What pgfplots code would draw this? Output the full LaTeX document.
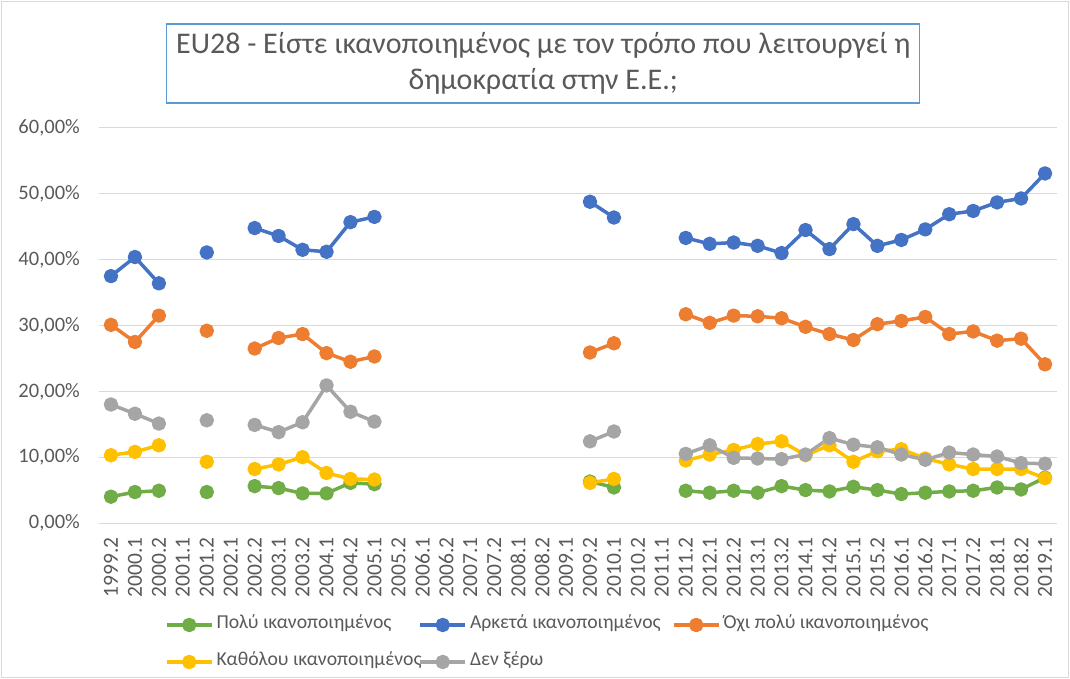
\documentclass[border=0pt]{standalone}
\usepackage{fontspec}
\setmainfont{Carlito}
\usepackage{pgfplots}
\usepackage{pgfplotstable}
\pgfplotsset{compat=1.18}
\definecolor{cgreen}{HTML}{70AD47}
\definecolor{cblue}{HTML}{4472C4}
\definecolor{corange}{HTML}{ED7D31}
\definecolor{cyellow}{HTML}{FFC000}
\definecolor{cgray}{HTML}{A5A5A5}
\definecolor{gridc}{HTML}{D9D9D9}
\definecolor{txt}{HTML}{595959}
\definecolor{titleblue}{HTML}{5B9BD5}

\pgfplotstableread{
x g b o y k
0 4.0 37.5 30.1 10.3 18.0
1 4.7 40.4 27.5 10.8 16.6
2 4.9 36.4 31.5 11.8 15.1
3 nan nan nan nan nan
4 4.7 41.1 29.2 9.3 15.6
5 nan nan nan nan nan
6 5.6 44.8 26.5 8.2 14.9
7 5.3 43.6 28.1 8.9 13.8
8 4.5 41.5 28.7 10.0 15.3
9 4.5 41.2 25.8 7.6 20.9
10 6.1 45.7 24.5 6.7 16.9
11 5.9 46.5 25.3 6.6 15.4
12 nan nan nan nan nan
13 nan nan nan nan nan
14 nan nan nan nan nan
15 nan nan nan nan nan
16 nan nan nan nan nan
17 nan nan nan nan nan
18 nan nan nan nan nan
19 nan nan nan nan nan
20 6.3 48.8 25.9 6.1 12.4
21 5.4 46.4 27.3 6.7 13.9
22 nan nan nan nan nan
23 nan nan nan nan nan
24 4.9 43.3 31.7 9.5 10.5
25 4.6 42.4 30.4 10.4 11.8
26 4.9 42.6 31.5 11.1 9.9
27 4.6 42.1 31.4 12.0 9.8
28 5.6 41.0 31.1 12.4 9.7
29 5.0 44.5 29.8 10.3 10.4
30 4.8 41.6 28.7 11.8 12.9
31 5.5 45.4 27.8 9.3 11.9
32 5.0 42.1 30.2 10.9 11.5
33 4.4 43.0 30.7 11.2 10.4
34 4.6 44.6 31.3 9.8 9.6
35 4.8 46.9 28.7 8.9 10.7
36 4.9 47.4 29.1 8.2 10.4
37 5.4 48.7 27.7 8.2 10.1
38 5.1 49.3 28.0 8.2 9.1
39 6.9 53.1 24.1 6.8 9.0
}\datatable

\newcommand{\lentry}[1]{\makebox[205pt][l]{\hspace{3pt}#1}}

\begin{document}
\begin{tikzpicture}
\draw[gridc, line width=1pt] (-97pt,-154pt) rectangle (969pt,521pt);
\begin{axis}[
  scale only axis,
  width=958pt, height=395pt,
  xmin=-0.5, xmax=39.5, ymin=0, ymax=60,
  axis line style={draw=none},
  major tick length=0pt,
  ymajorgrids, grid style={gridc, line width=1pt},
  xtick={0,...,39},
  xticklabels={1999.2,2000.1,2000.2,2001.1,2001.2,2002.1,2002.2,2003.1,2003.2,2004.1,2004.2,2005.1,2005.2,2006.1,2006.2,2007.1,2007.2,2008.1,2008.2,2009.1,2009.2,2010.1,2010.2,2011.1,2011.2,2012.1,2012.2,2013.1,2013.2,2014.1,2014.2,2015.1,2015.2,2016.1,2016.2,2017.1,2017.2,2018.1,2018.2,2019.1},
  ytick={0,10,20,30,40,50,60},
  yticklabels={{0,00\%},{10,00\%},{20,00\%},{30,00\%},{40,00\%},{50,00\%},{60,00\%}},
  xticklabel style={rotate=90, anchor=east, inner sep=0pt, font=\fontsize{21.5}{23}\selectfont, text=txt},
  yticklabel style={anchor=east, inner sep=0pt, font=\fontsize{20.5}{22}\selectfont, text=txt},
  xticklabel shift=14pt,
  yticklabel shift=19pt,
  unbounded coords=jump,
  every axis plot/.append style={line width=3.5pt, line join=round, mark=*, mark size=5.5pt},
  legend columns=3,
  legend image code/.code={\draw[mark repeat=2,mark phase=2,#1] plot coordinates {(0pt,0pt) (22.5pt,0pt) (45pt,0pt)};},
  legend style={at={(axis description cs:0.0689,-0.2354)}, anchor=north west, draw=none, fill=none,
    inner sep=0pt, outer sep=0pt, column sep=0pt, row sep=19pt,
    font=\fontsize{19.7}{21}\selectfont, text=txt,
    nodes={inner sep=0pt, text height=13pt, text depth=5pt}},
  legend cell align=left,
  clip=false,
]
\addplot[cgreen, mark options={fill=cgreen, draw=cgreen}] table[x=x, y=g] {\datatable};
\addlegendentry{\lentry{Πολύ ικανοποιημένος}}
\addplot[cblue, mark options={fill=cblue, draw=cblue}] table[x=x, y=b] {\datatable};
\addlegendentry{\lentry{Αρκετά ικανοποιημένος}}
\addplot[corange, mark options={fill=corange, draw=corange}] table[x=x, y=o] {\datatable};
\addlegendentry{\lentry{Όχι πολύ ικανοποιημένος}}
\addplot[cyellow, mark options={fill=cyellow, draw=cyellow}] table[x=x, y=y] {\datatable};
\addlegendentry{\lentry{Καθόλου ικανοποιημένος}}
\addplot[cgray, mark options={fill=cgray, draw=cgray}] table[x=x, y=k] {\datatable};
\addlegendentry{\lentry{Δεν ξέρω}}
\end{axis}
\node[draw=titleblue, line width=1.2pt, minimum width=753pt, minimum height=79pt, inner sep=0pt,
  align=center, text=txt, font=\fontsize{30}{36}\selectfont] at (444.3pt,459.5pt)
  {EU28 - Είστε ικανοποιημένος με τον τρόπο που λειτουργεί η\\δημοκρατία στην Ε.Ε.;};
\pgfresetboundingbox
\path[use as bounding box] (-99pt,-156pt) rectangle (971pt,523pt);
\end{tikzpicture}
\end{document}
